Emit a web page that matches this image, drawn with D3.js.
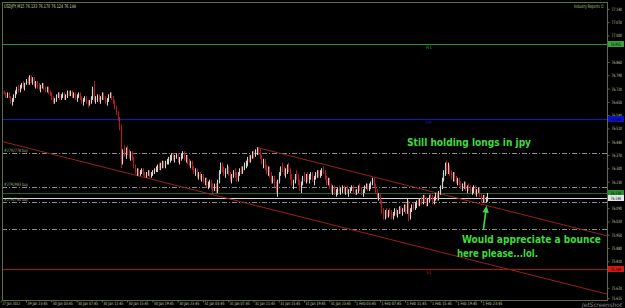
<!DOCTYPE html>
<html>
<head>
<meta charset="utf-8">
<script src="https://cdn.jsdelivr.net/npm/d3@7"></script>
<style>
  html, body { margin: 0; padding: 0; background: #000; }
  svg { display: block; }
  text { font-family: "DejaVu Sans", sans-serif; }
</style>
</head>
<body>
<svg id="chart" width="625" height="308"></svg>
<script>
// USDJPY M15 bars: [open, high, low, close]
const bars = [
  // 0
  [76.70,76.71,76.68,76.69],[76.69,76.71,76.68,76.70],[76.70,76.71,76.69,76.69],[76.69,76.70,76.67,76.68],[76.68,76.70,76.67,76.69],
  [76.69,76.70,76.67,76.67],[76.67,76.68,76.64,76.65],[76.65,76.67,76.63,76.66],[76.66,76.69,76.65,76.68],[76.68,76.71,76.67,76.70],
  // 10
  [76.70,76.73,76.69,76.72],[76.72,76.74,76.70,76.71],[76.71,76.74,76.70,76.73],[76.73,76.75,76.72,76.74],[76.74,76.76,76.72,76.73],
  [76.73,76.75,76.71,76.75],[76.75,76.77,76.74,76.76],[76.76,76.78,76.74,76.75],[76.75,76.79,76.74,76.78],[76.78,76.79,76.75,76.76],
  // 20
  [76.76,76.78,76.74,76.77],[76.77,76.78,76.73,76.74],[76.74,76.76,76.72,76.75],[76.75,76.76,76.72,76.73],[76.73,76.75,76.71,76.72],
  [76.72,76.74,76.70,76.73],[76.73,76.75,76.72,76.74],[76.74,76.75,76.71,76.72],[76.72,76.73,76.70,76.71],[76.71,76.73,76.70,76.72],
  // 30
  [76.72,76.73,76.69,76.70],[76.70,76.71,76.68,76.69],[76.69,76.70,76.66,76.67],[76.67,76.68,76.64,76.65],[76.65,76.67,76.64,76.66],
  [76.66,76.69,76.65,76.68],[76.68,76.70,76.67,76.69],[76.69,76.70,76.66,76.67],[76.67,76.69,76.66,76.68],[76.68,76.70,76.67,76.69],
  // 40
  [76.69,76.70,76.66,76.67],[76.67,76.69,76.66,76.68],[76.68,76.71,76.67,76.70],[76.70,76.71,76.68,76.69],[76.69,76.71,76.68,76.70],
  [76.70,76.71,76.67,76.68],[76.68,76.70,76.67,76.69],[76.69,76.70,76.66,76.67],[76.67,76.69,76.65,76.68],[76.68,76.70,76.67,76.69],
  // 50
  [76.69,76.70,76.66,76.67],[76.67,76.68,76.64,76.65],[76.65,76.67,76.63,76.66],[76.66,76.68,76.65,76.67],[76.67,76.68,76.64,76.65],
  [76.65,76.66,76.62,76.64],[76.64,76.66,76.63,76.65],[76.65,76.68,76.64,76.67],[76.67,76.73,76.66,76.72],[76.72,76.76,76.65,76.66],
  // 60
  [76.66,76.68,76.64,76.67],[76.67,76.69,76.65,76.68],[76.68,76.69,76.65,76.66],[76.66,76.68,76.64,76.67],[76.67,76.70,76.66,76.69],
  [76.69,76.70,76.66,76.67],[76.67,76.68,76.64,76.65],[76.65,76.67,76.63,76.66],[76.66,76.69,76.65,76.68],[76.68,76.70,76.67,76.69],
  // 70
  [76.69,76.70,76.66,76.67],[76.67,76.68,76.64,76.65],[76.65,76.66,76.61,76.62],[76.62,76.63,76.58,76.59],[76.59,76.60,76.55,76.56],
  [76.56,76.57,76.50,76.52],[76.52,76.53,76.30,76.33],[76.33,76.40,76.32,76.39],[76.39,76.42,76.36,76.37],[76.37,76.41,76.35,76.40],
  // 80
  [76.40,76.42,76.37,76.38],[76.38,76.40,76.35,76.36],[76.36,76.39,76.34,76.38],[76.38,76.39,76.34,76.35],[76.35,76.36,76.30,76.31],
  [76.31,76.32,76.27,76.28],[76.28,76.30,76.26,76.29],[76.29,76.30,76.26,76.27],[76.27,76.29,76.26,76.28],[76.28,76.30,76.27,76.29],
  // 90
  [76.29,76.30,76.26,76.27],[76.27,76.28,76.25,76.26],[76.26,76.28,76.25,76.27],[76.27,76.29,76.26,76.28],[76.28,76.29,76.25,76.26],
  [76.26,76.28,76.25,76.27],[76.27,76.29,76.26,76.28],[76.28,76.30,76.27,76.29],[76.29,76.31,76.28,76.30],[76.30,76.32,76.28,76.31],
  // 100
  [76.31,76.33,76.29,76.30],[76.30,76.33,76.29,76.32],[76.32,76.34,76.30,76.33],[76.33,76.34,76.30,76.31],[76.31,76.34,76.30,76.33],
  [76.33,76.35,76.32,76.34],[76.34,76.36,76.32,76.35],[76.35,76.37,76.33,76.36],[76.36,76.38,76.34,76.37],[76.37,76.38,76.34,76.35],
  // 110
  [76.35,76.37,76.33,76.36],[76.36,76.38,76.35,76.37],[76.37,76.38,76.33,76.34],[76.34,76.36,76.32,76.35],[76.35,76.38,76.34,76.37],
  [76.37,76.39,76.35,76.38],[76.38,76.39,76.34,76.35],[76.35,76.37,76.33,76.36],[76.36,76.37,76.32,76.33],[76.33,76.35,76.31,76.32],
  // 120
  [76.32,76.34,76.30,76.33],[76.33,76.34,76.29,76.30],[76.30,76.31,76.27,76.28],[76.28,76.30,76.26,76.29],[76.29,76.30,76.25,76.26],
  [76.26,76.28,76.24,76.27],[76.27,76.28,76.24,76.25],[76.25,76.27,76.23,76.26],[76.26,76.27,76.22,76.23],[76.23,76.25,76.21,76.24],
  // 130
  [76.24,76.25,76.20,76.21],[76.21,76.23,76.19,76.22],[76.22,76.24,76.20,76.23],[76.23,76.24,76.19,76.20],[76.20,76.22,76.17,76.19],
  [76.19,76.22,76.18,76.21],[76.21,76.22,76.17,76.18],[76.18,76.24,76.17,76.23],[76.23,76.29,76.22,76.28],[76.28,76.33,76.27,76.31],
  // 140
  [76.31,76.33,76.28,76.29],[76.29,76.31,76.26,76.27],[76.27,76.30,76.25,76.29],[76.29,76.32,76.27,76.30],[76.30,76.31,76.26,76.27],
  [76.27,76.28,76.23,76.24],[76.24,76.27,76.22,76.26],[76.26,76.29,76.25,76.28],[76.28,76.30,76.25,76.26],[76.26,76.28,76.23,76.24],
  // 150
  [76.24,76.28,76.23,76.27],[76.27,76.30,76.26,76.29],[76.29,76.31,76.27,76.28],[76.28,76.31,76.27,76.30],[76.30,76.33,76.29,76.32],
  [76.32,76.34,76.30,76.33],[76.33,76.36,76.31,76.35],[76.35,76.37,76.33,76.34],[76.34,76.37,76.33,76.36],[76.36,76.39,76.35,76.38],
  // 160
  [76.38,76.39,76.35,76.37],[76.37,76.40,76.36,76.39],[76.39,76.41,76.37,76.40],[76.40,76.41,76.37,76.38],[76.38,76.40,76.35,76.36],
  [76.36,76.37,76.32,76.33],[76.33,76.35,76.30,76.34],[76.34,76.35,76.29,76.30],[76.30,76.32,76.27,76.28],[76.28,76.31,76.26,76.30],
  // 170
  [76.30,76.31,76.25,76.26],[76.26,76.28,76.22,76.23],[76.23,76.26,76.22,76.25],[76.25,76.26,76.20,76.21],[76.21,76.23,76.17,76.19],
  [76.19,76.24,76.15,76.23],[76.23,76.28,76.22,76.27],[76.27,76.31,76.26,76.30],[76.30,76.33,76.28,76.29],[76.29,76.31,76.26,76.27],
  // 180
  [76.27,76.30,76.25,76.29],[76.29,76.32,76.27,76.31],[76.31,76.33,76.28,76.29],[76.29,76.30,76.24,76.25],[76.25,76.27,76.21,76.22],
  [76.22,76.24,76.19,76.23],[76.23,76.27,76.22,76.26],[76.26,76.29,76.24,76.25],[76.25,76.27,76.21,76.22],[76.22,76.24,76.18,76.20],
  // 190
  [76.20,76.23,76.17,76.22],[76.22,76.26,76.21,76.25],[76.25,76.28,76.23,76.24],[76.24,76.27,76.22,76.26],[76.26,76.28,76.23,76.24],
  [76.24,76.27,76.22,76.26],[76.26,76.28,76.24,76.27],[76.27,76.28,76.23,76.24],[76.24,76.26,76.21,76.25],[76.25,76.28,76.24,76.27],
  // 200
  [76.27,76.29,76.25,76.28],[76.28,76.29,76.25,76.26],[76.26,76.29,76.25,76.28],[76.28,76.30,76.26,76.29],[76.29,76.31,76.27,76.28],
  [76.28,76.29,76.24,76.25],[76.25,76.26,76.21,76.22],[76.22,76.25,76.21,76.24],[76.24,76.25,76.19,76.20],[76.20,76.22,76.17,76.18],
  // 210
  [76.18,76.21,76.16,76.20],[76.20,76.21,76.16,76.17],[76.17,76.19,76.15,76.18],[76.18,76.20,76.16,76.19],[76.19,76.21,76.17,76.18],
  [76.18,76.20,76.16,76.19],[76.19,76.21,76.17,76.20],[76.20,76.21,76.17,76.18],[76.18,76.20,76.16,76.19],[76.19,76.21,76.17,76.17],
  // 220
  [76.17,76.19,76.15,76.18],[76.18,76.20,76.17,76.19],[76.19,76.21,76.18,76.20],[76.20,76.21,76.17,76.18],[76.18,76.19,76.16,76.17],
  [76.17,76.19,76.16,76.18],[76.18,76.21,76.17,76.20],[76.20,76.22,76.18,76.19],[76.19,76.20,76.16,76.17],[76.17,76.19,76.15,76.18],
  // 230
  [76.18,76.21,76.17,76.20],[76.20,76.22,76.19,76.21],[76.21,76.22,76.18,76.19],[76.19,76.22,76.18,76.21],[76.21,76.23,76.19,76.22],
  [76.22,76.25,76.21,76.24],[76.24,76.25,76.20,76.21],[76.21,76.22,76.17,76.18],[76.18,76.19,76.14,76.15],[76.15,76.17,76.13,76.16],
  // 240
  [76.16,76.17,76.11,76.12],[76.12,76.13,76.06,76.07],[76.07,76.09,76.03,76.05],[76.05,76.08,76.03,76.07],[76.07,76.09,76.04,76.05],
  [76.05,76.08,76.04,76.07],[76.07,76.09,76.05,76.06],[76.06,76.08,76.03,76.04],[76.04,76.07,76.03,76.06],[76.06,76.09,76.05,76.08],
  // 250
  [76.08,76.09,76.05,76.06],[76.06,76.08,76.04,76.07],[76.07,76.10,76.06,76.09],[76.09,76.10,76.06,76.07],[76.07,76.09,76.05,76.08],
  [76.08,76.11,76.07,76.10],[76.10,76.11,76.06,76.07],[76.07,76.14,76.06,76.12],[76.12,76.13,76.02,76.04],[76.04,76.09,76.03,76.08],
  // 260
  [76.08,76.11,76.07,76.10],[76.10,76.12,76.08,76.09],[76.09,76.12,76.08,76.11],[76.11,76.13,76.09,76.12],[76.12,76.14,76.10,76.11],
  [76.11,76.14,76.10,76.13],[76.13,76.15,76.11,76.12],[76.12,76.16,76.11,76.15],[76.15,76.16,76.12,76.13],[76.13,76.15,76.10,76.11],
  // 270
  [76.11,76.14,76.10,76.13],[76.13,76.16,76.12,76.15],[76.15,76.17,76.13,76.14],[76.14,76.16,76.11,76.12],[76.12,76.15,76.11,76.14],
  [76.14,76.17,76.13,76.16],[76.16,76.17,76.13,76.14],[76.14,76.18,76.13,76.17],[76.17,76.21,76.16,76.20],[76.20,76.25,76.19,76.24],
  // 280
  [76.24,76.29,76.23,76.28],[76.28,76.33,76.26,76.31],[76.31,76.34,76.27,76.29],[76.29,76.33,76.27,76.31],[76.31,76.32,76.26,76.27],
  [76.27,76.29,76.24,76.25],[76.25,76.28,76.23,76.27],[76.27,76.28,76.23,76.24],[76.24,76.26,76.22,76.23],[76.23,76.25,76.21,76.24],
  // 290
  [76.24,76.25,76.21,76.22],[76.22,76.23,76.19,76.20],[76.20,76.22,76.18,76.21],[76.21,76.23,76.19,76.22],[76.22,76.23,76.18,76.19],
  [76.19,76.21,76.17,76.20],[76.20,76.22,76.18,76.19],[76.19,76.21,76.17,76.18],[76.18,76.20,76.16,76.19],[76.19,76.21,76.17,76.20],
  // 300
  [76.20,76.21,76.16,76.17],[76.17,76.19,76.15,76.18],[76.18,76.20,76.17,76.19],[76.19,76.20,76.15,76.16],[76.16,76.17,76.12,76.13],
  [76.13,76.16,76.12,76.15],[76.15,76.16,76.12,76.13],[76.13,76.15,76.12,76.133],[76.133,76.170,76.124,76.144]
];

// time axis: one label every 16 bars (4 hours)
const timeTickIndex = [0, 16, 32, 48, 64, 80, 96, 112, 128, 144, 160, 176, 192, 208, 224, 240, 256, 272, 288, 304];
const timeLabels = ["27 Jan 2012", "29 Jan 23:45", "30 Jan 03:45", "30 Jan 07:45", "30 Jan 11:45", "30 Jan 15:45",
  "30 Jan 19:45", "30 Jan 23:45", "31 Jan 03:45", "31 Jan 07:45", "31 Jan 11:45", "31 Jan 15:45", "31 Jan 19:45",
  "31 Jan 23:45", "1 Feb 03:45", "1 Feb 07:45", "1 Feb 11:45", "1 Feb 15:45", "1 Feb 19:45", "1 Feb 23:45"];

const priceTicks = [77.140, 77.070, 77.000, 76.860, 76.790, 76.720, 76.650, 76.580, 76.510, 76.440, 76.370,
  76.300, 76.230, 76.090, 76.020, 75.950, 75.880, 75.810, 75.670, 75.615];

// horizontal levels drawn as solid lines with a price tag on the axis
const levelPrices = [76.955, 76.560, 76.170, 76.144, 75.769];
const levelColors = ["#2f8f2f", "#1a1ab8", "#1f6a1f", "#d8d8d8", "#b01515"];
const levelTags = ["#3aa03a", "#1010c8", "#2f8f2f", "#e8e8e8", "#d41818"];
const levelNames = ["R1", "PP", "", "", "S1"];

// open orders (dash-dot lines)
const orderPrices = [76.381, 76.202, 76.122, 75.980];
const orderNames = ["#2792778 buy", "#2792983 buy", "#2792780 buy", ""];

// trend lines as rays through two (bar index, price) points
const trendLines = [
  { i1: -1, p1: 76.445, i2: 300, p2: 75.813 },
  { i1: 162, p1: 76.410, i2: 300, p2: 76.120 }
];

const notes = [
  { text: "Still holding longs in jpy", i: 257.2, p: 76.418, w: 124 },
  { text: "Would appreciate a bounce", i: 291.9, p: 75.904, w: 139 },
  { text: "here please...lol.", i: 288.8, p: 75.830, w: 81 }
];
const arrow = { i1: 305.5, p1: 75.975, i2: 307.5, p2: 76.103 };

const W = 625, H = 308;
const plot = { left: 2, right: 607, top: 2, bottom: 300 };
const frameColor = "#5d6f3d";
const labelColor = "#c4cfaa";

const svg = d3.select("#chart");
const x = d3.scaleLinear().domain([0, 304]).range([0.7, 481]);
const y = d3.scaleLinear().domain([75.606, 77.171]).range([300, 3]);

svg.append("rect").attr("width", W).attr("height", H).attr("fill", "#000");

svg.append("defs").append("clipPath").attr("id", "plotClip").append("rect")
  .attr("x", plot.left).attr("y", plot.top)
  .attr("width", plot.right - plot.left).attr("height", plot.bottom - plot.top);

const g = svg.append("g").attr("clip-path", "url(#plotClip)");

// level lines
g.selectAll("line.level").data(levelPrices).join("line")
  .attr("class", "level")
  .attr("x1", plot.left).attr("x2", plot.right)
  .attr("y1", d => Math.round(y(d)) + 0.5).attr("y2", d => Math.round(y(d)) + 0.5)
  .attr("stroke", (d, k) => levelColors[k]).attr("stroke-width", 1);

g.selectAll("text.levelName").data(levelPrices).join("text")
  .attr("class", "levelName")
  .attr("x", 426).attr("y", d => y(d) + 5)
  .attr("font-size", 4.5)
  .attr("fill", (d, k) => levelColors[k])
  .text((d, k) => levelNames[k]);

// order lines
g.selectAll("line.order").data(orderPrices).join("line")
  .attr("class", "order")
  .attr("x1", plot.left).attr("x2", plot.right)
  .attr("y1", d => Math.round(y(d)) + 0.5).attr("y2", d => Math.round(y(d)) + 0.5)
  .attr("stroke", "#8c8c8c").attr("stroke-width", 1)
  .attr("stroke-dasharray", "5,2,1,2");

g.selectAll("text.order").data(orderPrices).join("text")
  .attr("class", "order")
  .attr("x", 4).attr("y", d => y(d) - 1)
  .attr("font-size", 4.5).attr("fill", "#9fb886")
  .attr("textLength", 24).attr("lengthAdjust", "spacingAndGlyphs")
  .text((d, k) => orderNames[k]);

// trend lines (extended to the right edge)
g.selectAll("line.trend").data(trendLines).join("line")
  .attr("class", "trend")
  .attr("x1", d => x(d.i1)).attr("y1", d => y(d.p1))
  .attr("x2", plot.right)
  .attr("y2", d => {
    const slope = (y(d.p2) - y(d.p1)) / (x(d.i2) - x(d.i1));
    return y(d.p1) + slope * (plot.right - x(d.i1));
  })
  .attr("stroke", "#9a2020").attr("stroke-width", 1);

// candles
const upColor = "#d4d4d4", downColor = "#a82020";
const candle = g.selectAll("g.candle").data(bars).join("g").attr("class", "candle");
candle.append("line")
  .attr("x1", (d, i) => Math.round(x(i)) + 0.5).attr("x2", (d, i) => Math.round(x(i)) + 0.5)
  .attr("y1", d => y(d[1])).attr("y2", d => y(d[2]))
  .attr("stroke", d => d[3] >= d[0] ? upColor : downColor).attr("stroke-width", 1);
candle.append("rect")
  .attr("x", (d, i) => Math.round(x(i)) - 0.1).attr("width", 1.2)
  .attr("y", d => y(Math.max(d[0], d[3])))
  .attr("height", d => Math.max(0.8, Math.abs(y(d[0]) - y(d[3]))))
  .attr("fill", d => d[3] >= d[0] ? upColor : downColor);

// notes
svg.selectAll("text.note").data(notes).join("text")
  .attr("class", "note")
  .attr("x", d => x(d.i)).attr("y", d => y(d.p))
  .attr("font-size", 11).attr("font-weight", "bold").attr("fill", "#3ddc3d")
  .attr("textLength", d => d.w).attr("lengthAdjust", "spacingAndGlyphs")
  .text(d => d.text);

// arrow
const ax1 = x(arrow.i1), ay1 = y(arrow.p1), ax2 = x(arrow.i2), ay2 = y(arrow.p2);
const ang = Math.atan2(ay2 - ay1, ax2 - ax1);
svg.append("line")
  .attr("x1", ax1).attr("y1", ay1)
  .attr("x2", ax2 - 5 * Math.cos(ang)).attr("y2", ay2 - 5 * Math.sin(ang))
  .attr("stroke", "#3ddc3d").attr("stroke-width", 1.6);
const hw = 3.2, hl = 7;
const bx = ax2 - hl * Math.cos(ang), by = ay2 - hl * Math.sin(ang);
svg.append("path")
  .attr("d", `M${ax2},${ay2}L${bx + hw * Math.sin(ang)},${by - hw * Math.cos(ang)}L${bx - hw * Math.sin(ang)},${by + hw * Math.cos(ang)}Z`)
  .attr("fill", "#3ddc3d");

// frame
svg.append("rect")
  .attr("x", plot.left + 0.5).attr("y", plot.top + 0.5)
  .attr("width", plot.right - plot.left).attr("height", plot.bottom - plot.top)
  .attr("fill", "none").attr("stroke", frameColor);

// price axis
const yAxis = svg.append("g")
  .attr("transform", `translate(${plot.right + 0.5},0)`)
  .call(d3.axisRight(y).tickValues(priceTicks).tickFormat(d3.format(".3f")).tickSize(2).tickPadding(2));
yAxis.select(".domain").remove();
yAxis.selectAll("line").attr("stroke", frameColor);
yAxis.selectAll("text").attr("fill", labelColor).attr("font-size", 4.5)
  .attr("font-family", "DejaVu Sans").attr("textLength", 10.5).attr("lengthAdjust", "spacingAndGlyphs");

// level tags on the price axis
const tags = svg.selectAll("g.tag").data(levelPrices).join("g").attr("class", "tag")
  .attr("transform", d => `translate(${plot.right + 1},${Math.round(y(d))})`);
tags.append("rect").attr("x", 0).attr("y", -3).attr("width", 16).attr("height", 6)
  .attr("fill", (d, k) => levelTags[k]);
tags.append("text").attr("x", 2.5).attr("y", 1.8)
  .attr("font-size", 4.5).attr("fill", "#000")
  .attr("textLength", 10.5).attr("lengthAdjust", "spacingAndGlyphs")
  .text(d => d3.format(".3f")(d));

// time axis
const xAxis = svg.append("g")
  .attr("transform", `translate(0,${plot.bottom + 0.5})`)
  .call(d3.axisBottom(x).tickValues(timeTickIndex).tickFormat((d, k) => timeLabels[k]).tickSize(2).tickPadding(0));
xAxis.select(".domain").remove();
xAxis.selectAll("line").attr("stroke", frameColor);
xAxis.selectAll("text").attr("fill", labelColor).attr("font-size", 4.5)
  .attr("font-family", "DejaVu Sans").attr("text-anchor", "start")
  .attr("dx", 1).attr("dy", "0.6em")
  .attr("textLength", (d, k) => k === 0 ? 18 : 20).attr("lengthAdjust", "spacingAndGlyphs");

// header texts
svg.append("text").attr("x", 4).attr("y", 8).attr("font-size", 5).attr("fill", "#c8d4b0")
  .attr("textLength", 72).attr("lengthAdjust", "spacingAndGlyphs")
  .text("USDJPY,M15  76.133 76.170 76.124 76.144");
svg.append("text").attr("x", 574).attr("y", 8).attr("font-size", 5).attr("fill", "#a8c890")
  .attr("textLength", 30).attr("lengthAdjust", "spacingAndGlyphs")
  .text("Industry Reports ©");

// watermark
svg.append("text").attr("x", 582).attr("y", 306.5).attr("font-size", 6).attr("fill", "#8a8a8a")
  .attr("font-style", "italic")
  .attr("textLength", 40).attr("lengthAdjust", "spacingAndGlyphs")
  .text("JetScreenshot");
</script>
</body>
</html>
